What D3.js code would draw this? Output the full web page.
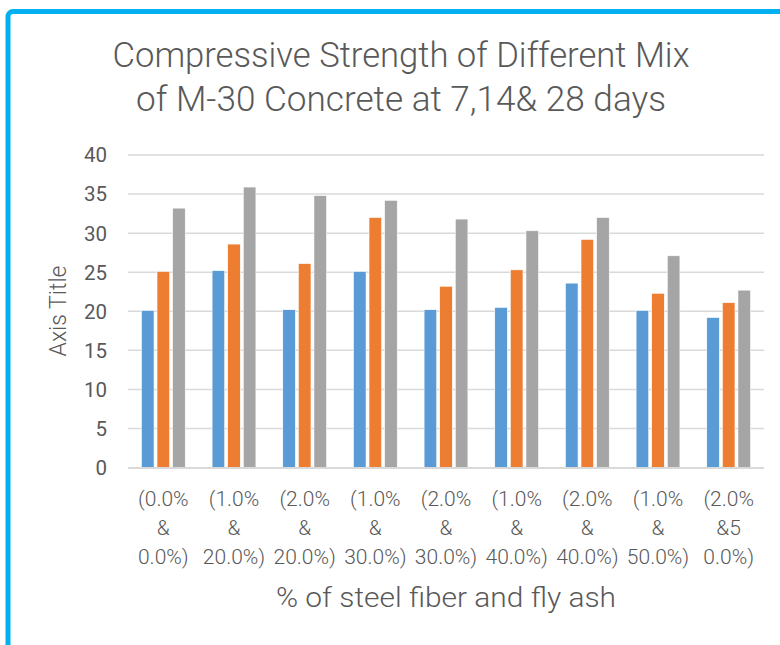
<!DOCTYPE html>
<html>
<head>
<meta charset="utf-8">
<script src="https://cdn.jsdelivr.net/npm/d3@7"></script>
<style>
  body { margin: 0; background: #fff; }
  text { fill: #595959; }
</style>
</head>
<body>
<svg id="chart" width="780" height="645"></svg>
<script>
// data
const categories = [
  ["(0.0%", "&", "0.0%)"],
  ["(1.0%", "&", "20.0%)"],
  ["(2.0%", "&", "20.0%)"],
  ["(1.0%", "&", "30.0%)"],
  ["(2.0%", "&", "30.0%)"],
  ["(1.0%", "&", "40.0%)"],
  ["(2.0%", "&", "40.0%)"],
  ["(1.0%", "&", "50.0%)"],
  ["(2.0%", "&5", "0.0%)"]
];
const days7  = [20.1, 25.2, 20.2, 25.1, 20.2, 20.5, 23.6, 20.1, 19.2];
const days14 = [25.1, 28.6, 26.1, 32.0, 23.2, 25.3, 29.2, 22.3, 21.1];
const days28 = [33.2, 35.9, 34.8, 34.2, 31.8, 30.3, 32.0, 27.1, 22.7];
const seriesNames = ["7 days", "14 days", "28 days"];
const colors = ["#5B9BD5", "#ED7D31", "#A5A5A5"];
const yTicks = [0, 5, 10, 15, 20, 25, 30, 35, 40];

const svg = d3.select("#chart");
const m = { left: 128, right: 764, top: 155, bottom: 467.5 };

// frame
svg.append("rect")
  .attr("x", 8).attr("y", 11.5)
  .attr("width", 800).attr("height", 700)
  .attr("rx", 5)
  .attr("fill", "none")
  .attr("stroke", "#00B0F0")
  .attr("stroke-width", 5);

const idx = d3.range(categories.length);
const x0 = d3.scaleBand().domain(idx).range([m.left, m.right])
  .paddingInner(0.38).paddingOuter(0.19);
const x1 = d3.scaleBand().domain(d3.range(3)).range([0, x0.bandwidth()])
  .paddingInner(0.19);
const y = d3.scaleLinear().domain([0, 40]).range([m.bottom, m.top]);

// grid
svg.append("g").selectAll("line")
  .data(yTicks.slice(1)).enter()
  .append("line")
  .attr("x1", m.left).attr("x2", m.right)
  .attr("y1", d => y(d)).attr("y2", d => y(d))
  .attr("stroke", "#d9d9d9").attr("stroke-width", 1.5);

// y tick labels
svg.append("g").selectAll("text")
  .data(yTicks).enter()
  .append("text")
  .attr("x", 107)
  .attr("y", d => y(d))
  .attr("dy", "0.36em")
  .attr("text-anchor", "end")
  .style("font-family", "Roboto, sans-serif")
  .style("font-size", "20.5px")
  .text(d => d);

// bars
const all = [days7, days14, days28];
svg.append("g").selectAll("g")
  .data(all).enter()
  .append("g").attr("fill", (d, s) => colors[s])
  .each(function (vals, s) {
    d3.select(this).selectAll("rect")
      .data(vals).enter()
      .append("rect")
      .attr("x", (d, i) => x0(i) + x1(s))
      .attr("y", d => y(d))
      .attr("width", x1.bandwidth())
      .attr("height", d => y(0) - y(d))
      .attr("stroke", "#fff").attr("stroke-width", 0.6)
      .append("title").text(d => seriesNames[s] + ": " + d);
  });

// x axis line
svg.append("line")
  .attr("x1", m.left).attr("x2", m.right)
  .attr("y1", y(0) + 0.5).attr("y2", y(0) + 0.5)
  .attr("stroke", "#d9d9d9").attr("stroke-width", 2);

// category labels
const cat = svg.append("g").selectAll("text")
  .data(categories).enter()
  .append("text")
  .attr("text-anchor", "middle")
  .style("font-family", "Roboto, sans-serif")
  .style("font-weight", 300)
  .style("font-size", "21px");
cat.each(function (lines, i) {
  d3.select(this).selectAll("tspan")
    .data(lines).enter()
    .append("tspan")
    .attr("x", x0(i) + x0.bandwidth() / 2)
    .attr("y", (d, k) => 506 + k * 29)
    .text(d => d);
});

// titles
const title = ["Compressive Strength of Different Mix", "of M-30 Concrete at 7,14& 28 days"];
const titleW = [577, 530];
svg.append("g").selectAll("text")
  .data(title).enter()
  .append("text")
  .attr("x", 401)
  .attr("y", (d, i) => 67 + i * 44)
  .attr("text-anchor", "middle")
  .attr("textLength", (d, i) => titleW[i])
  .attr("lengthAdjust", "spacingAndGlyphs")
  .style("font-family", "Roboto, sans-serif")
  .style("font-weight", 300)
  .style("font-size", "35px")
  .text(d => d);

svg.append("text")
  .attr("x", 446).attr("y", 607)
  .attr("text-anchor", "middle")
  .attr("textLength", 340)
  .attr("lengthAdjust", "spacingAndGlyphs")
  .style("font-family", "Roboto, sans-serif")
  .style("font-weight", 300)
  .style("font-size", "28px")
  .text("% of steel fiber and fly ash");

svg.append("text")
  .attr("transform", "translate(66,311) rotate(-90)")
  .attr("text-anchor", "middle")
  .style("font-family", "Roboto, sans-serif")
  .style("font-size", "23px")
  .style("font-weight", 300)
  .text("Axis Title");
</script>
</body>
</html>
